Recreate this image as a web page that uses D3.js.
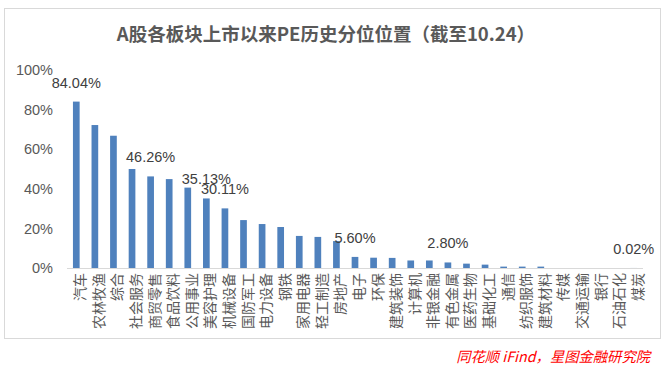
<!DOCTYPE html>
<html><head><meta charset="utf-8">
<script src="https://cdn.jsdelivr.net/npm/d3@7"></script>
<style>body{margin:0;background:#fff}svg{display:block}</style>
</head><body>
<script>
const categories = ["汽车","农林牧渔","综合","社会服务","商贸零售","食品饮料","公用事业","美容护理","机械设备","国防军工","电力设备","钢铁","家用电器","轻工制造","房地产","电子","环保","建筑装饰","计算机","非银金融","有色金属","医药生物","基础化工","通信","纺织服饰","建筑材料","传媒","交通运输","银行","石油石化","煤炭"];
const values = [84.04,72.2,66.8,50.0,46.26,44.9,40.6,35.13,30.11,24.2,22.2,20.7,16.2,15.7,13.6,5.60,5.2,5.1,3.8,3.8,2.80,2.2,1.7,0.7,0.7,0.7,0,0,0,0,0.02];
const labelled = ["汽车","商贸零售","美容护理","机械设备","电子","有色金属","煤炭"];
const yTicks = [0,20,40,60,80,100];
const title = "A股各板块上市以来PE历史分位位置（截至10.24）";
const source = "同花顺 iFind，星图金融研究院";

const W = 666, H = 368;
const svg = d3.select("body").append("svg").attr("width", W).attr("height", H);
const font = "'Liberation Sans', Arial, 'Noto Sans CJK SC', sans-serif";

svg.append("rect").attr("x",4.5).attr("y",8.5).attr("width",656).attr("height",330)
  .attr("fill","#fff").attr("stroke","#d9d9d9");

svg.append("text").attr("x",326).attr("y",41).attr("text-anchor","middle")
  .attr("font-family","'Noto Sans CJK SC', sans-serif").attr("font-weight","bold")
  .attr("font-size",18.5).attr("fill","#595959").text(title);

const x = d3.scaleBand().domain(categories).range([67,643]).paddingInner(0.64).paddingOuter(0.32);
const y = d3.scaleLinear().domain([0,100]).range([268,70]);

// y axis labels
const yAxis = d3.axisLeft(y).tickValues(yTicks).tickFormat(d => d + "%").tickSize(0).tickPadding(0);
const gy = svg.append("g").attr("transform","translate(53,0)").call(yAxis);
gy.select(".domain").remove();
gy.selectAll("text").attr("font-family",font).attr("font-size",14.5).attr("fill","#595959");

// bars
svg.append("g").selectAll("rect").data(categories).join("rect")
  .attr("x", d => x(d)).attr("width", x.bandwidth())
  .attr("y", (d,i) => y(values[i])).attr("height", (d,i) => y(0) - y(values[i]))
  .attr("fill","#4f81bd");

// x axis
const xAxis = d3.axisBottom(x).tickSize(0).tickPadding(0);
const gx = svg.append("g").attr("transform","translate(0,268)").call(xAxis);
gx.select(".domain").attr("stroke","#d9d9d9").attr("d","M67,0.5H643");
gx.selectAll("text")
  .attr("font-family","'Noto Sans CJK SC', sans-serif").attr("font-size",14).attr("fill","#595959")
  .attr("text-anchor","end").attr("dy",null).attr("y",0)
  .attr("transform","translate(3,5) rotate(-90)")
  .attr("dominant-baseline","central");

// data labels
svg.append("g").selectAll("text").data(labelled).join("text")
  .attr("x", d => x(d) + x.bandwidth()/2)
  .attr("y", d => y(values[categories.indexOf(d)]) - 14)
  .attr("text-anchor","middle").attr("font-family",font).attr("font-size",14.5).attr("fill","#404040")
  .text(d => values[categories.indexOf(d)].toFixed(2) + "%");

svg.append("text").attr("x",650).attr("y",362).attr("text-anchor","end")
  .attr("font-family","'Noto Sans CJK SC', sans-serif").attr("font-style","italic")
  .attr("font-size",14.3).attr("fill","#ff0000")
  .text(source);
</script>
</body></html>
